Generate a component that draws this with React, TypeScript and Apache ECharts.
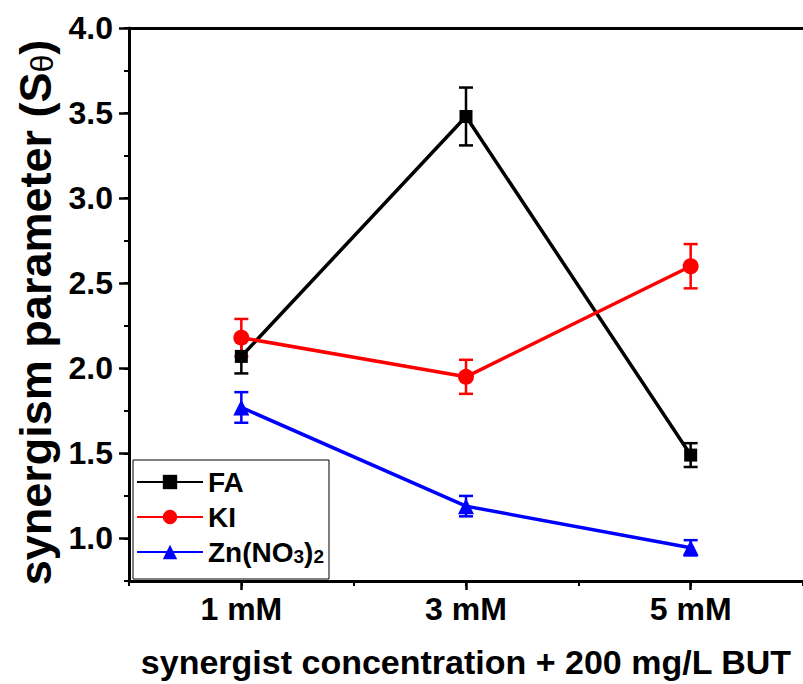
import React, { useEffect, useRef } from "react";
import * as echarts from "echarts";

const categories = ["1 mM", "3 mM", "5 mM"];
const xPositions = [1, 3, 5];
const faValues = [2.07, 3.48, 1.49];
const faErrors = [0.1, 0.17, 0.07];
const kiValues = [2.18, 1.95, 2.6];
const kiErrors = [0.11, 0.1, 0.13];
const znValues = [1.77, 1.19, 0.945];
const znErrors = [0.09, 0.06, 0.045];
const yTickValues = [1.0, 1.5, 2.0, 2.5, 3.0, 3.5, 4.0];
const seriesNames = ["FA", "KI", "Zn(NO3)2"];

const FONT = "'Liberation Sans', Arial, Helvetica, sans-serif";

function lineData(vals: number[]) {
  return xPositions.map((x, i) => [x, vals[i]]);
}
function errData(vals: number[], errs: number[]) {
  return xPositions.map((x, i) => [x, vals[i] - errs[i], vals[i] + errs[i]]);
}

function errorSeries(name: string, color: string, vals: number[], errs: number[]) {
  return {
    type: "custom",
    name: name + "-err",
    xAxisIndex: 0,
    yAxisIndex: 0,
    data: errData(vals, errs),
    encode: { x: 0, y: [1, 2] },
    z: 3,
    renderItem: (params: any, api: any) => {
      const x = api.value(0);
      const lo = api.coord([x, api.value(1)]);
      const hi = api.coord([x, api.value(2)]);
      const hw = 7;
      const style = { stroke: color, lineWidth: 2.5, fill: "none" };
      return {
        type: "group",
        children: [
          { type: "line", shape: { x1: lo[0], y1: lo[1], x2: hi[0], y2: hi[1] }, style },
          { type: "line", shape: { x1: lo[0] - hw, y1: lo[1], x2: lo[0] + hw, y2: lo[1] }, style },
          { type: "line", shape: { x1: hi[0] - hw, y1: hi[1], x2: hi[0] + hw, y2: hi[1] }, style },
        ],
      };
    },
  };
}

function lineSeries(name: string, color: string, symbol: string, size: number, vals: number[]) {
  return {
    type: "line",
    name,
    xAxisIndex: 0,
    yAxisIndex: 0,
    data: lineData(vals),
    symbol,
    symbolSize: size,
    showSymbol: true,
    z: 3,
    lineStyle: { color, width: 3.5 },
    itemStyle: { color, borderWidth: 0 },
  };
}

export default function App() {
  const ref = useRef<HTMLDivElement>(null);
  useEffect(() => {
    if (!ref.current) return;
    const chart = echarts.init(ref.current, null, { renderer: "svg" });
    const axisLineStyle = { color: "#000", width: 3 };
    chart.setOption({
      animation: false,
      backgroundColor: "#fff",
      grid: { left: 129, top: 28, width: 684, height: 556, containLabel: false },
      legend: {
        data: seriesNames,
        orient: "vertical",
        left: 133,
        top: 460,
        itemWidth: 66,
        itemHeight: 18,
        itemGap: 7,
        padding: [8, 5, 13, 3],
        backgroundColor: "#fff",
        borderColor: "#000",
        borderWidth: 1,
        borderRadius: 0,
        formatter: (n: string) => (n === "Zn(NO3)2" ? "Zn(NO{sub|3}){sub|2}" : n),
        textStyle: {
          fontFamily: FONT,
          fontWeight: "bold",
          fontSize: 28,
          color: "#000",
          lineHeight: 28,
          rich: {
            sub: {
              fontFamily: FONT,
              fontWeight: "bold",
              fontSize: 19,
              lineHeight: 1,
              verticalAlign: "bottom",
              color: "#000",
            },
          },
        },
      },
      xAxis: [
        {
          type: "value",
          min: 0,
          max: 6,
          interval: 1,
          position: "bottom",
          axisLine: { show: true, onZero: false, lineStyle: axisLineStyle },
          axisTick: { show: true, inside: false, length: 5, lineStyle: { color: "#000", width: 2 } },
          axisLabel: { show: false },
          splitLine: { show: false },
        },
        {
          type: "value",
          min: 0,
          max: 6,
          position: "bottom",
          axisLine: { show: false, onZero: false },
          axisTick: { show: true, inside: false, length: 9, customValues: xPositions, lineStyle: { color: "#000", width: 2.5 } },
          axisLabel: {
            show: true,
            customValues: xPositions,
            margin: 12,
            formatter: (v: number) => categories[xPositions.indexOf(v)] ?? "",
            fontFamily: FONT,
            fontWeight: "bold",
            fontSize: 32,
            color: "#000",
          },
          splitLine: { show: false },
          name: "synergist concentration + 200 mg/L BUT",
          nameLocation: "middle",
          nameGap: 64,
          nameTextStyle: { fontFamily: FONT, fontWeight: "bold", fontSize: 34, color: "#000" },
        },
        {
          type: "value",
          min: 0,
          max: 6,
          position: "top",
          axisLine: { show: true, onZero: false, lineStyle: axisLineStyle },
          axisTick: { show: false },
          axisLabel: { show: false },
          splitLine: { show: false },
        },
      ],
      yAxis: [
        {
          type: "value",
          min: 0.75,
          max: 4,
          interval: 0.25,
          position: "left",
          axisLine: { show: true, onZero: false, lineStyle: axisLineStyle },
          axisTick: { show: true, inside: false, length: 5, lineStyle: { color: "#000", width: 2 } },
          axisLabel: { show: false },
          splitLine: { show: false },
        },
        {
          type: "value",
          min: 0.75,
          max: 4,
          position: "left",
          axisLine: { show: false, onZero: false },
          axisTick: { show: true, inside: false, length: 10, customValues: yTickValues, lineStyle: { color: "#000", width: 2.5 } },
          axisLabel: {
            show: true,
            customValues: yTickValues,
            margin: 16,
            formatter: (v: number) => v.toFixed(1),
            fontFamily: FONT,
            fontWeight: "bold",
            fontSize: 32,
            color: "#000",
          },
          splitLine: { show: false },
          name: "synergism parameter (S{sub|θ})",
          nameLocation: "middle",
          nameGap: 65,
          nameTextStyle: {
            fontFamily: FONT,
            fontWeight: "bold",
            fontSize: 45,
            color: "#000",
            padding: [0, 16, 0, 0],
            rich: {
              sub: { fontFamily: FONT, fontWeight: "normal", fontSize: 32, lineHeight: 24, verticalAlign: "bottom", color: "#000" },
            },
          },
        },
      ],
      series: [
        lineSeries("FA", "#000000", "rect", 13, faValues),
        errorSeries("FA", "#000000", faValues, faErrors),
        lineSeries("KI", "#ff0000", "circle", 16, kiValues),
        errorSeries("KI", "#ff0000", kiValues, kiErrors),
        lineSeries("Zn(NO3)2", "#0000ff", "triangle", 16, znValues),
        errorSeries("Zn(NO3)2", "#0000ff", znValues, znErrors),
      ],
    });
    return () => chart.dispose();
  }, []);
  return <div ref={ref} style={{ position: "fixed", left: 0, top: 0, width: 803, height: 684 }} />;
}
